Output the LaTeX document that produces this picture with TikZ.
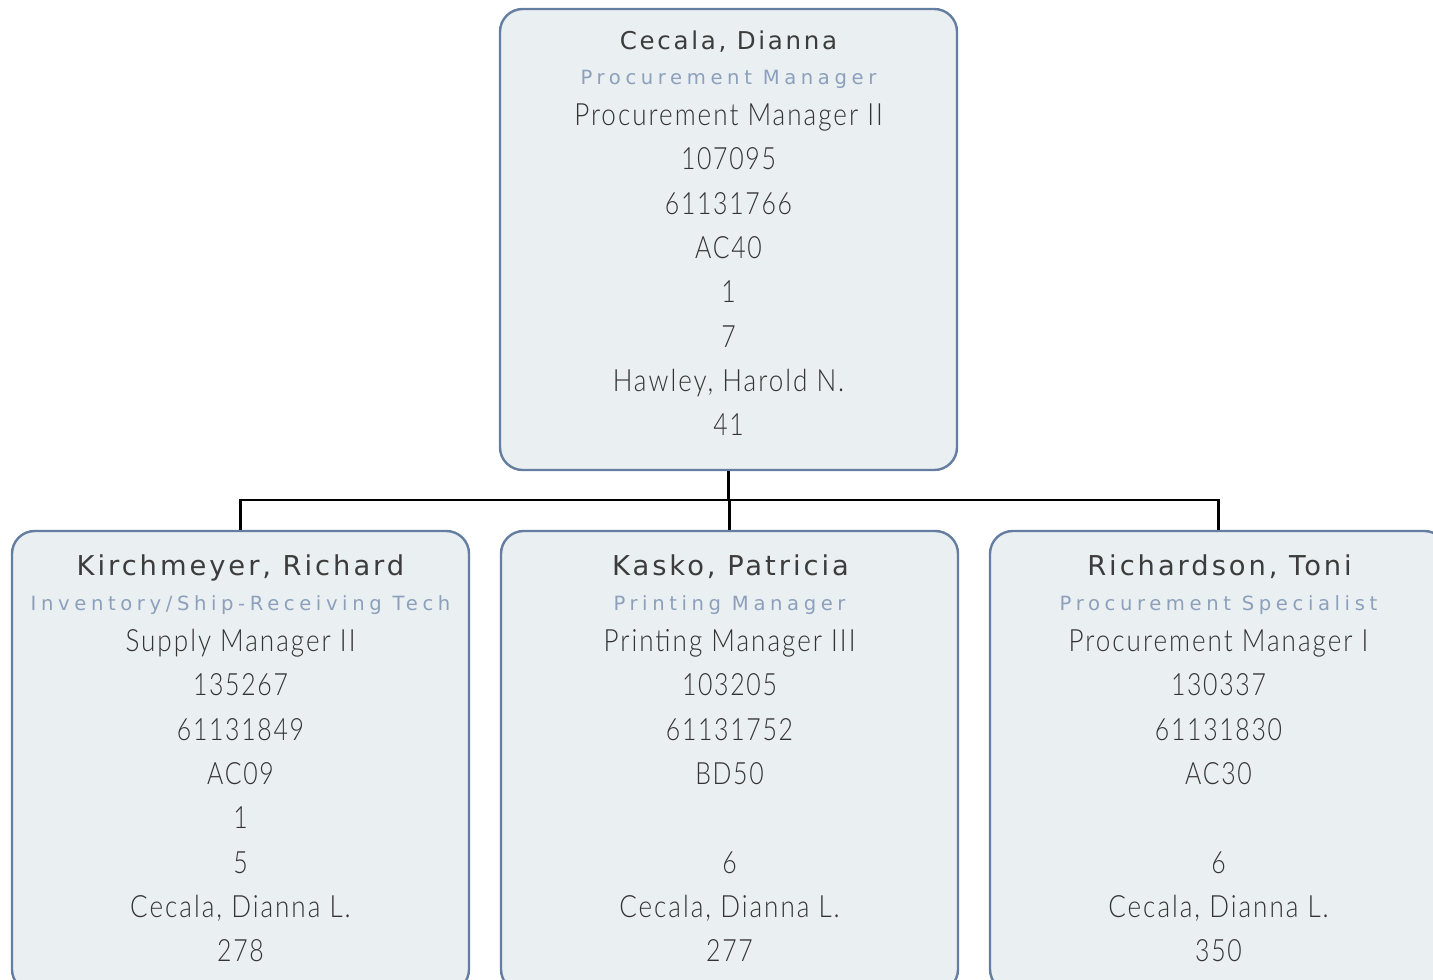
\documentclass[tikz,border=0pt]{standalone}
\usepackage{fontspec}
\IfFontExistsTF{Lato Light}
  {\newfontfamily\bodyfont{Lato Light}[FakeStretch=0.85,LetterSpace=6.5]
   \newfontfamily\numfont{Lato Light}[FakeStretch=0.81,LetterSpace=5.5]}
  {\IfFontExistsTF{Lato-Light.ttf}
    {\newfontfamily\bodyfont{Lato-Light.ttf}[FakeStretch=0.85,LetterSpace=6.5]
     \newfontfamily\numfont{Lato-Light.ttf}[FakeStretch=0.81,LetterSpace=5.5]}
    {\newfontfamily\bodyfont{Lato}[FakeStretch=0.85,LetterSpace=6.5]
     \newfontfamily\numfont{Lato}[FakeStretch=0.81,LetterSpace=5.5]}}
\newfontfamily\topnamefont{DejaVu Sans}[LetterSpace=11]
\newfontfamily\namefont{DejaVu Sans}[LetterSpace=10.8]
\newfontfamily\rolefont{DejaVu Sans}[LetterSpace=23.5]
\definecolor{boxfill}{HTML}{EAEFF2}
\definecolor{boxline}{HTML}{647DA0}
\definecolor{namecol}{HTML}{3C3C3C}
\definecolor{rolecol}{HTML}{8CA0BC}
\definecolor{bodycol}{HTML}{333333}
\tikzset{
  person/.style={draw=boxline, fill=boxfill, line width=1.8pt, rounded corners=17pt,
    minimum width=342.75pt, minimum height=345.75pt, inner sep=0pt},
  topnm/.style={font=\topnamefont\fontsize{18.4}{22}\selectfont, text=namecol, inner sep=0pt, anchor=base},
  nm/.style={font=\namefont\fontsize{20.5}{24}\selectfont, text=namecol, inner sep=0pt, anchor=base},
  role/.style={font=\rolefont\fontsize{14.7}{18}\selectfont, text=rolecol, inner sep=0pt, anchor=base},
  body/.style={font=\bodyfont\fontsize{23}{28}\selectfont, text=bodycol, inner sep=0pt, anchor=base},
  num/.style={font=\numfont\fontsize{23}{28}\selectfont, text=bodycol, inner sep=0pt, anchor=base},
  conn/.style={line width=2pt, draw=black},
}
\begin{document}
\begin{tikzpicture}[x=0.75pt, y=-0.75pt]
\useasboundingbox (0,0) rectangle (1433,980);
\clip (0,0) rectangle (1433,980);
% boxes
\node[person] (top) at (728.5,239.5) {};
\node[person] (c1) at (240.5,761.5) {};
\node[person] (c2) at (729.5,761.5) {};
\node[person] (c3) at (1218.5,761.5) {};
% connectors
\coordinate (bus) at (728.5,500);
\draw[conn] (top.south) -- (bus);
\draw[conn] (bus) -| (c1.north);
\draw[conn] (bus) -| (c2.north);
\draw[conn] (bus) -| (c3.north);
% top box texts
\node[topnm] (top-name) at (728.5,50) {Cecala, Dianna};
\node[role] (top-role) at (728.5,85) {Procurement Manager};
\foreach \i/\s/\t in {0/body/Procurement Manager II,1/num/107095,2/num/61131766,3/num/AC40,4/num/1,5/num/7,6/body/{Hawley, Harold N.},7/num/41}
  \node[\s] (top-l\i) at (728.5,125.5+44.3*\i) {\t};
% child 1
\node[nm] (c1-name) at (240.5,575) {Kirchmeyer, Richard};
\node[role] (c1-role) at (240.5,610) {Inventory/Ship-Receiving Tech};
\foreach \i/\s/\t in {0/body/Supply Manager II,1/num/135267,2/num/61131849,3/num/AC09,4/num/1,5/num/5,6/body/{Cecala, Dianna L.},7/num/278}
  \node[\s] (c1-l\i) at (240.5,651.5+44.3*\i) {\t};
% child 2
\node[nm] (c2-name) at (730.5,575) {Kasko, Patricia};
\node[role] (c2-role) at (729.5,610) {Printing Manager};
\foreach \i/\s/\t in {0/body/Printing Manager III,1/num/103205,2/num/61131752,3/num/BD50,5/num/6,6/body/{Cecala, Dianna L.},7/num/277}
  \node[\s] (c2-l\i) at (729.5,651.5+44.3*\i) {\t};
% child 3
\node[nm] (c3-name) at (1219.5,575) {Richardson, Toni};
\node[role] (c3-role) at (1218.5,610) {Procurement Specialist};
\foreach \i/\s/\t in {0/body/Procurement Manager I,1/num/130337,2/num/61131830,3/num/AC30,5/num/6,6/body/{Cecala, Dianna L.},7/num/350}
  \node[\s] (c3-l\i) at (1218.5,651.5+44.3*\i) {\t};
\end{tikzpicture}
\end{document}
